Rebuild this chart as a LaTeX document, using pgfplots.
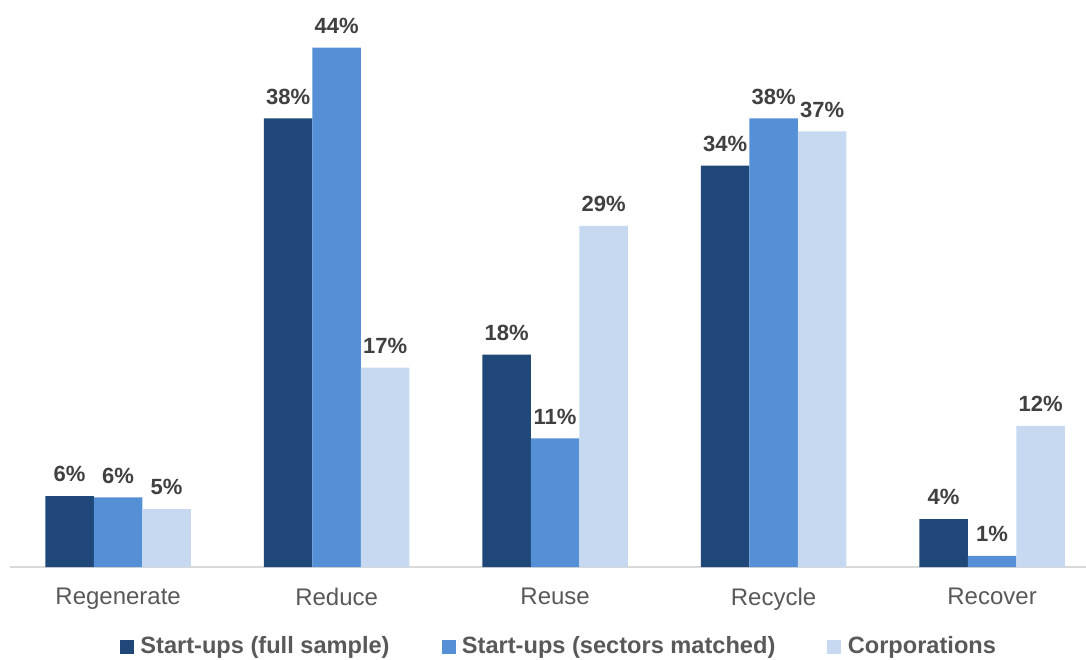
\documentclass[border=0pt]{standalone}
\usepackage{pgfplots}
\pgfplotsset{compat=1.18}
\usepackage{fontspec}
\setmainfont{Liberation Sans}
\definecolor{cA}{HTML}{1F4778}
\definecolor{cB}{HTML}{5590D6}
\definecolor{cC}{HTML}{C6D9F0}
\definecolor{txt}{HTML}{404040}
\definecolor{tick}{HTML}{595959}
\begin{document}
\begin{tikzpicture}
\useasboundingbox (-5pt,-46pt) rectangle (538pt,283.5pt);
\begin{axis}[
  at={(0,0)}, anchor=south west,
  scale only axis, width=538pt, height=271.5pt,
  ybar=0pt, bar width=24.25pt,
  xmin=-0.495, xmax=4.43, ymin=0, ymax=46,
  axis y line=none,
  axis x line*=bottom,
  x axis line style={draw=black!15, line width=1pt, -},
  xtick={0,1,2,3,4},
  xticklabels={Regenerate,Reduce,Reuse,Recycle,Recover},
  major tick length=0pt,
  xticklabel style={font=\fontsize{12}{14}\selectfont, text=tick, yshift=-7pt},
  clip=false,
  /pgf/number format/assume math mode=true,
  nodes near coords={\pgfmathprintnumber[fixed,precision=0,assume math mode=true]{\pgfplotspointmeta}\%},
  every node near coord/.append style={font=\bfseries\fontsize{11}{13}\selectfont, text=txt, yshift=3.5pt},
  legend style={at={(0.5,-46pt)}, anchor=south, yshift=-3pt, xshift=6pt, draw=none, fill=none,
    font=\bfseries\fontsize{11.8}{13}\selectfont, text=tick, legend columns=-1,
    /tikz/every even column/.append style={column sep=24pt},
    /tikz/every odd column/.append style={column sep=1.2pt}},
  legend image code/.code={\fill[#1] (0pt,-3.5pt) rectangle (7pt,3.5pt);},
]
\addplot[fill=cA, draw=none] coordinates {(0,6) (1,38) (2,18) (3,34) (4,4.05)};
\addplot[fill=cB, draw=none] coordinates {(0,5.9) (1,44) (2,10.9) (3,38) (4,0.95)};
\addplot[fill=cC, draw=none] coordinates {(0,4.9) (1,16.9) (2,28.9) (3,36.9) (4,11.95)};
\legend{Start-ups (full sample),Start-ups (sectors matched),Corporations}
\end{axis}
\end{tikzpicture}
\end{document}
